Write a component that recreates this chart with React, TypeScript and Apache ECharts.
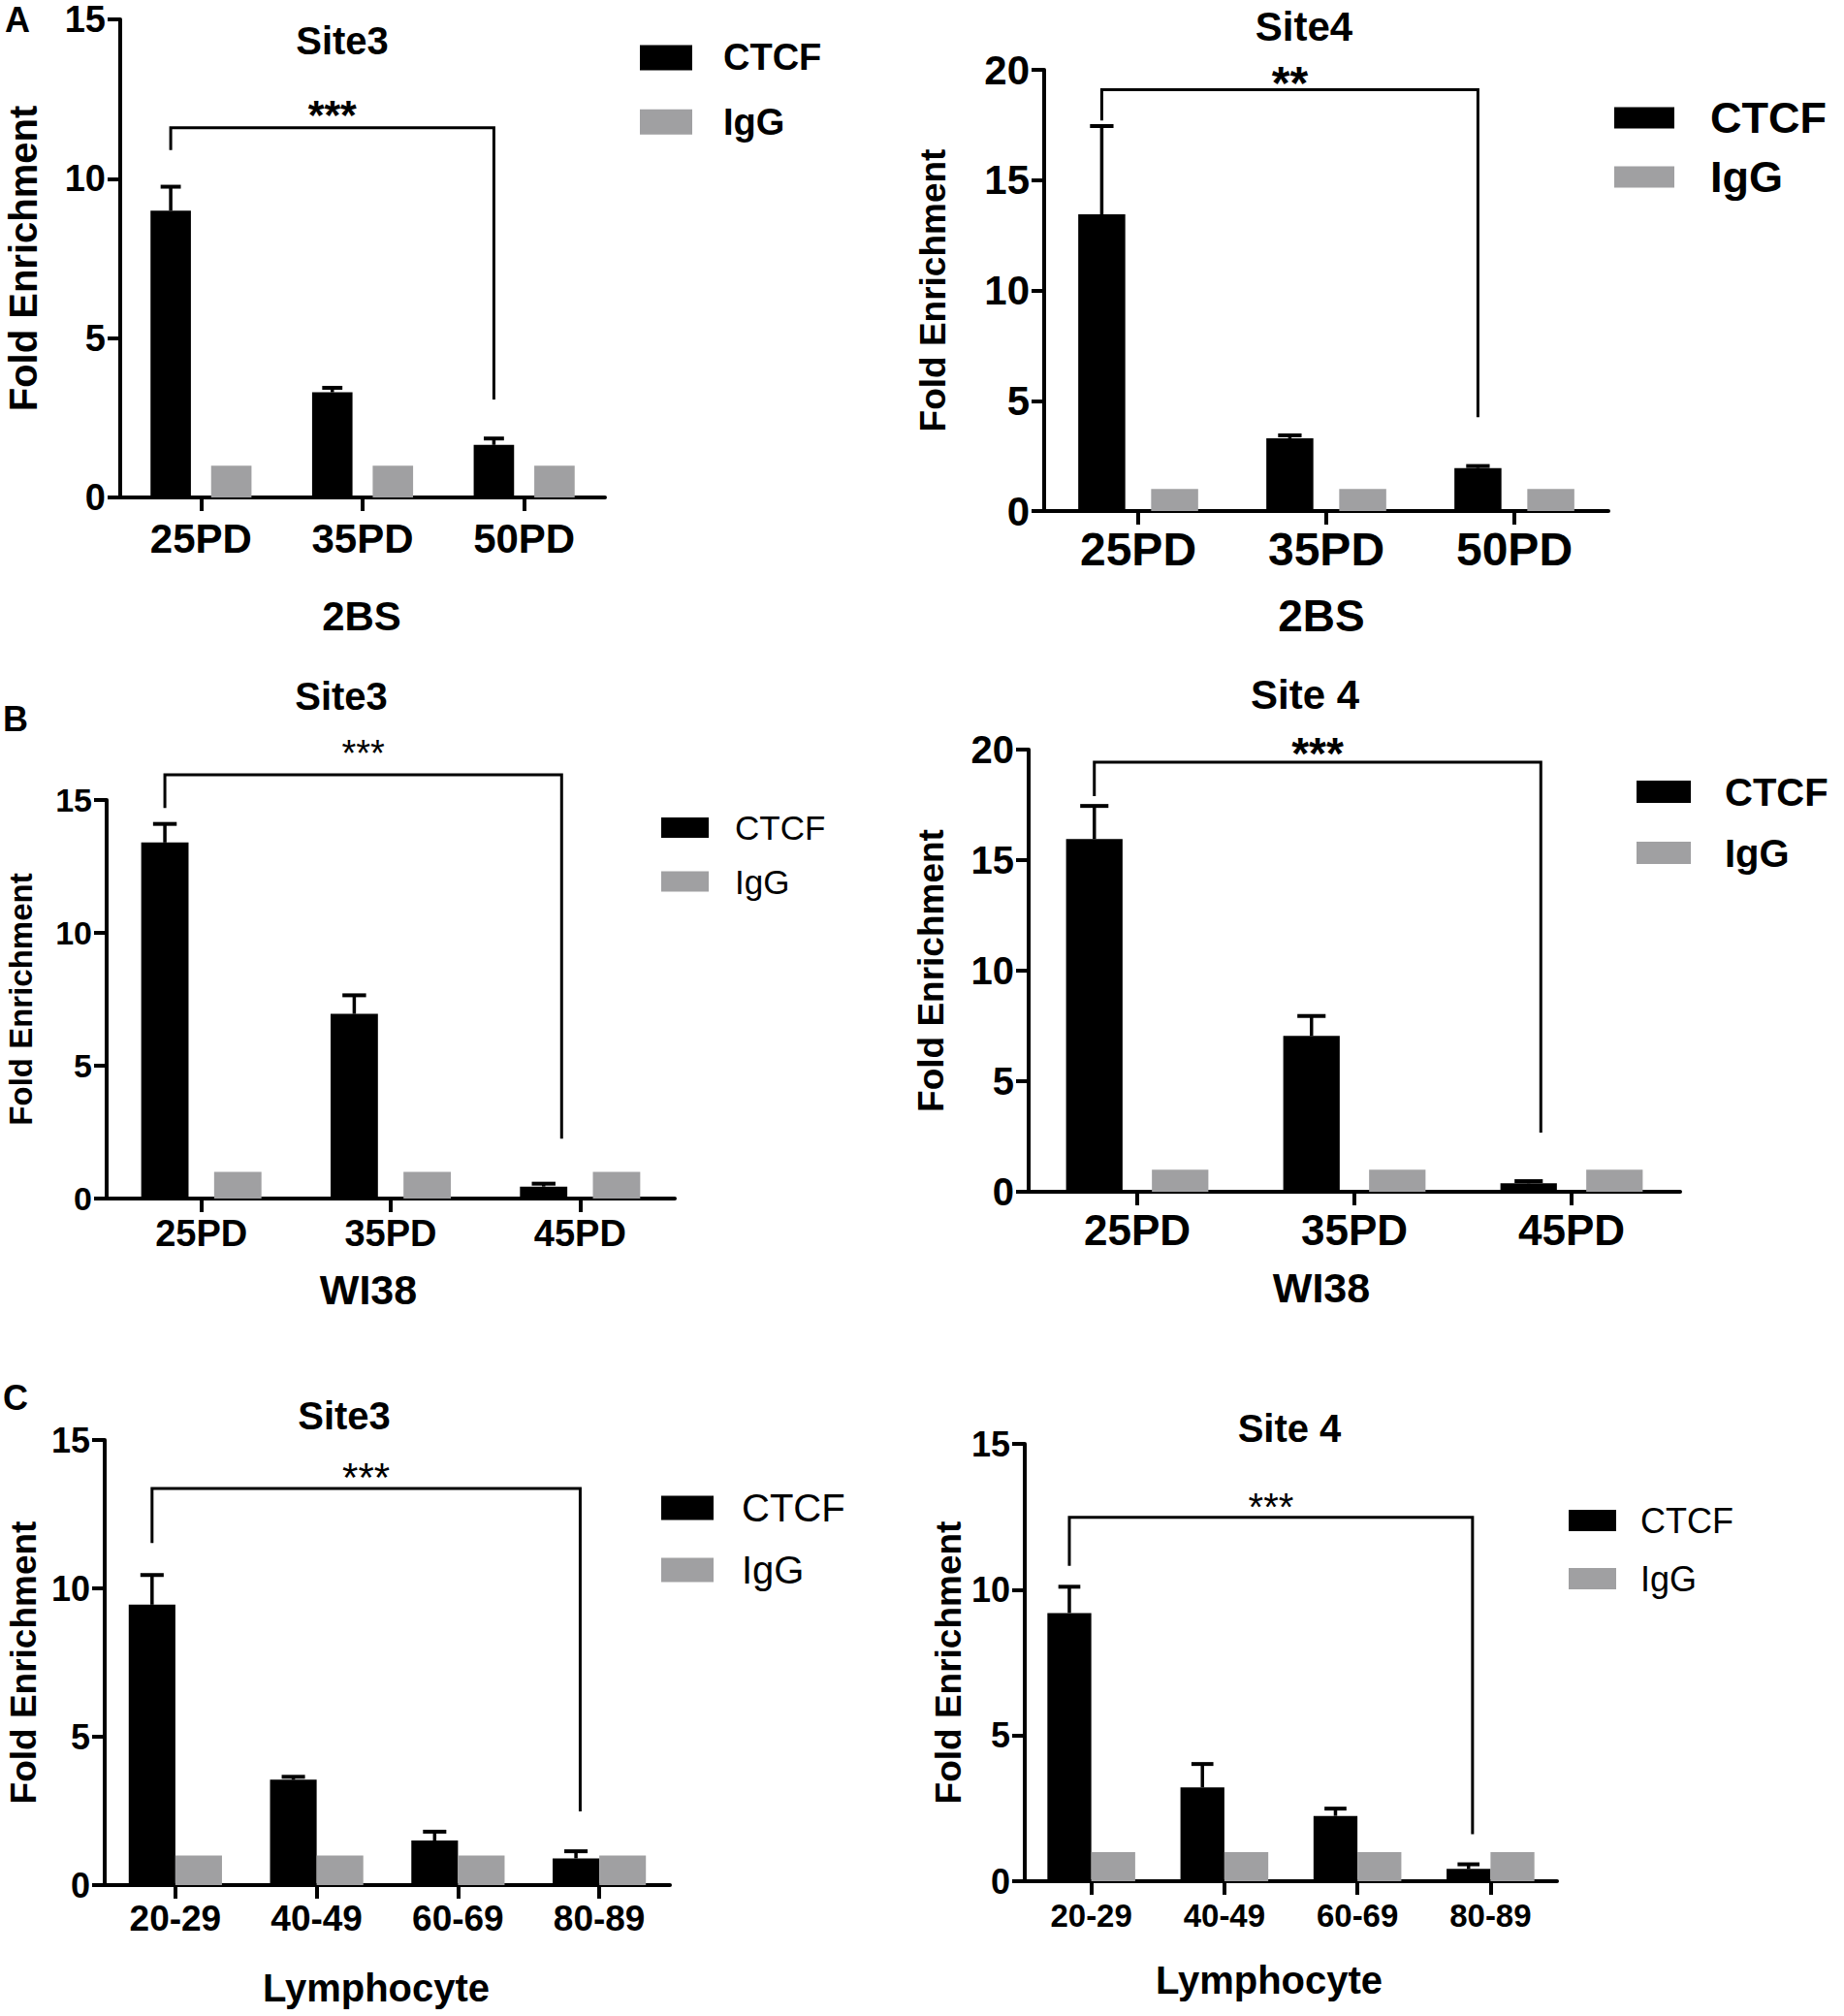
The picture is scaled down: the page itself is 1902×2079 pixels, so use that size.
import React, { useEffect, useRef } from "react";
import * as echarts from "echarts";

// ---------- DATA ----------
const PD_2BS = ["25PD", "35PD", "50PD"];
const PD_WI38 = ["25PD", "35PD", "45PD"];
const AGE_GROUPS = ["20-29", "40-49", "60-69", "80-89"];

// A: 2BS, Site3
const A3_CTCF = [9.0, 3.3, 1.65];
const A3_SEM = [0.75, 0.14, 0.2];
const A3_IGG = [1.0, 1.0, 1.0];
const A3_BRACKET = [11.6, 10.9, 3.07]; // top, left leg end, right leg end
// A: 2BS, Site4
const A4_CTCF = [13.45, 3.3, 1.95];
const A4_SEM = [4.0, 0.13, 0.09];
const A4_IGG = [1.0, 1.0, 1.0];
const A4_BRACKET = [19.1, 17.7, 4.25];
// B: WI38, Site3
const B3_CTCF = [13.4, 6.95, 0.45];
const B3_SEM = [0.7, 0.7, 0.11];
const B3_IGG = [1.0, 1.0, 1.0];
const B3_BRACKET = [15.95, 14.7, 2.25];
// B: WI38, Site 4
const B4_CTCF = [15.95, 7.05, 0.38];
const B4_SEM = [1.5, 0.9, 0.1];
const B4_IGG = [1.0, 1.0, 1.0];
const B4_BRACKET = [19.43, 17.9, 2.67];
// C: Lymphocyte, Site3
const C3_CTCF = [9.45, 3.55, 1.5, 0.9];
const C3_SEM = [1.0, 0.1, 0.3, 0.24];
const C3_IGG = [1.0, 1.0, 1.0, 1.0];
const C3_BRACKET = [13.37, 11.53, 2.48];
// C: Lymphocyte, Site 4
const C4_CTCF = [9.2, 3.22, 2.24, 0.42];
const C4_SEM = [0.9, 0.8, 0.25, 0.16];
const C4_IGG = [1.0, 1.0, 1.0, 1.0];
const C4_BRACKET = [12.48, 10.82, 1.61];

const SERIES_NAMES = ["CTCF", "IgG"];
const STARS = ["***", "**", "***", "***", "***", "***"];
const TITLES = ["Site3", "Site4", "Site3", "Site 4", "Site3", "Site 4"];
const GROUPS = ["2BS", "2BS", "WI38", "WI38", "Lymphocyte", "Lymphocyte"];
const PANEL_LETTERS = ["A", "B", "C"];
const Y_NAME = "Fold Enrichment";

// ---------- LAYOUT / STYLE ----------
const FONT = "'Liberation Sans', Arial, Helvetica, sans-serif";
const GRAY = "#a0a0a2";

type Panel = {
  cats: string[]; ctcf: number[]; sem: number[]; igg: number[]; bracket: number[];
  grid: { left: number; top: number; width: number; height: number };
  yMax: number; barW: number; gap: number; rightShift: number;
  tickFont: number; catFont: number; catMargin: number; nameFont: number; nameGap: number;
  title: { x: number; y: number; size: number };
  group: { x: number; y: number; size: number };
  legend: { left: number; top: number; w: number; h: number; lineH: number; gap: number; pad: number; font: number; weight: string };
  star: { size: number; weight: string; dy: number };
};

const PANELS: Panel[] = [
  {
    cats: PD_2BS, ctcf: A3_CTCF, sem: A3_SEM, igg: A3_IGG, bracket: A3_BRACKET,
    grid: { left: 124, top: 20, width: 500, height: 493 }, yMax: 15, barW: 0.25, gap: 0.5, rightShift: 0,
    tickFont: 38, catFont: 42, catMargin: 21, nameFont: 40, nameGap: 80,
    title: { x: 353, y: 42, size: 40 }, group: { x: 373, y: 635, size: 42 },
    legend: { left: 660, top: 39.4, w: 54, h: 26, lineH: 40, gap: 26.4, pad: 27, font: 38, weight: "bold" },
    star: { size: 43, weight: "bold", dy: -13.4 },
  },
  {
    cats: PD_2BS, ctcf: A4_CTCF, sem: A4_SEM, igg: A4_IGG, bracket: A4_BRACKET,
    grid: { left: 1077, top: 72, width: 582, height: 455 }, yMax: 20, barW: 0.25, gap: 0.55, rightShift: 0,
    tickFont: 42, catFont: 48, catMargin: 15, nameFont: 37, nameGap: 96,
    title: { x: 1345, y: 27, size: 42 }, group: { x: 1363, y: 635, size: 46 },
    legend: { left: 1665, top: 98.4, w: 62, h: 22, lineH: 46, gap: 15, pad: 32, font: 45, weight: "bold" },
    star: { size: 48, weight: "bold", dy: -6.5 },
  },
  {
    cats: PD_WI38, ctcf: B3_CTCF, sem: B3_SEM, igg: B3_IGG, bracket: B3_BRACKET,
    grid: { left: 110, top: 825, width: 586, height: 411 }, yMax: 15, barW: 0.25, gap: 0.54, rightShift: 0.095,
    tickFont: 34, catFont: 38, catMargin: 17, nameFont: 33, nameGap: 72,
    title: { x: 352, y: 718, size: 40 }, group: { x: 380, y: 1330, size: 43 },
    legend: { left: 682, top: 835.5, w: 49, h: 21, lineH: 36, gap: 19.5, pad: 22, font: 35, weight: "normal" },
    star: { size: 38, weight: "normal", dy: -22 },
  },
  {
    cats: PD_WI38, ctcf: B4_CTCF, sem: B4_SEM, igg: B4_IGG, bracket: B4_BRACKET,
    grid: { left: 1061, top: 773, width: 672, height: 456 }, yMax: 20, barW: 0.26, gap: 0.52, rightShift: 0.056,
    tickFont: 40, catFont: 44, catMargin: 17, nameFont: 37, nameGap: 82,
    title: { x: 1346, y: 716, size: 42 }, group: { x: 1363, y: 1328, size: 43 },
    legend: { left: 1688, top: 796.6, w: 56, h: 23, lineH: 40, gap: 23, pad: 30, font: 40, weight: "bold" },
    star: { size: 46, weight: "bold", dy: -9 },
  },
  {
    cats: AGE_GROUPS, ctcf: C3_CTCF, sem: C3_SEM, igg: C3_IGG, bracket: C3_BRACKET,
    grid: { left: 108, top: 1485, width: 583, height: 459 }, yMax: 15, barW: 0.33, gap: 0, rightShift: 0.03,
    tickFont: 36, catFont: 37, catMargin: 16, nameFont: 37, nameGap: 65,
    title: { x: 355, y: 1460, size: 40 }, group: { x: 388, y: 2050, size: 40 },
    legend: { left: 682, top: 1535, w: 54, h: 25, lineH: 40, gap: 24, pad: 24, font: 40, weight: "normal" },
    star: { size: 42, weight: "normal", dy: -11 },
  },
  {
    cats: AGE_GROUPS, ctcf: C4_CTCF, sem: C4_SEM, igg: C4_IGG, bracket: C4_BRACKET,
    grid: { left: 1057, top: 1489, width: 549, height: 451 }, yMax: 15, barW: 0.33, gap: 0, rightShift: 0.03,
    tickFont: 36, catFont: 33, catMargin: 19, nameFont: 37, nameGap: 60,
    title: { x: 1330, y: 1473, size: 40 }, group: { x: 1309, y: 2042, size: 40 },
    legend: { left: 1618, top: 1550, w: 49, h: 22, lineH: 36, gap: 24, pad: 20, font: 36, weight: "normal" },
    star: { size: 40, weight: "normal", dy: -10.5 },
  },
];

const LETTER_POS = [
  { x: 18, y: 20 },
  { x: 16, y: 741 },
  { x: 16, y: 1441 },
];

function textEl(text: string, x: number, y: number, size: number, weight = "bold") {
  return {
    type: "text",
    x,
    y,
    silent: true,
    style: {
      text,
      fill: "#000",
      fontSize: size,
      fontWeight: weight,
      fontFamily: FONT,
      align: "center",
      verticalAlign: "middle",
      textAlign: "center",
      textVerticalAlign: "middle",
    },
  };
}

function buildOption() {
  const grid: any[] = [];
  const xAxis: any[] = [];
  const yAxis: any[] = [];
  const series: any[] = [];
  const legend: any[] = [];
  const graphic: any[] = [];

  PANELS.forEach((p, i) => {
    grid.push({ ...p.grid, containLabel: false });
    xAxis.push({
      type: "category",
      gridIndex: i,
      data: p.cats,
      axisLine: { show: true, lineStyle: { color: "#000", width: 4 } },
      axisTick: { show: true, alignWithLabel: true, length: 14, lineStyle: { color: "#000", width: 4 } },
      axisLabel: { color: "#000", fontSize: p.catFont, fontWeight: "bold", fontFamily: FONT, margin: p.catMargin },
      splitLine: { show: false },
    });
    yAxis.push({
      type: "value",
      gridIndex: i,
      min: 0,
      max: p.yMax,
      interval: 5,
      name: Y_NAME,
      nameLocation: "middle",
      nameRotate: 90,
      nameGap: p.nameGap,
      nameTextStyle: { color: "#000", fontSize: p.nameFont, fontWeight: "bold", fontFamily: FONT },
      axisLine: { show: true, lineStyle: { color: "#000", width: 4 } },
      axisTick: { show: true, length: 13, lineStyle: { color: "#000", width: 4 } },
      axisLabel: { color: "#000", fontSize: p.tickFont, fontWeight: "bold", fontFamily: FONT, margin: 15 },
      splitLine: { show: false },
    });

    const off = -p.barW * (1 + p.gap) / 2; // CTCF bar centre, in band units
    series.push({
      name: SERIES_NAMES[0],
      type: "bar",
      xAxisIndex: i,
      yAxisIndex: i,
      data: p.ctcf,
      barWidth: `${p.barW * 100}%`,
      barGap: `${p.gap * 100}%`,
      itemStyle: { color: "#000" },
      silent: true,
      z: 2,
    });
    series.push({
      name: SERIES_NAMES[1],
      type: "bar",
      xAxisIndex: i,
      yAxisIndex: i,
      data: p.igg,
      barWidth: `${p.barW * 100}%`,
      barGap: `${p.gap * 100}%`,
      itemStyle: { color: GRAY },
      silent: true,
      z: 2,
    });
    // error bars (upper only)
    series.push({
      name: "err" + i,
      type: "custom",
      xAxisIndex: i,
      yAxisIndex: i,
      data: p.ctcf.map((v, k) => [k, v, v + p.sem[k]]),
      encode: { x: 0, y: [1, 2] },
      silent: true,
      clip: false,
      z: 3,
      renderItem: (params: any, api: any) => {
        const k = api.value(0);
        const base = api.coord([k, api.value(1)]);
        const top = api.coord([k, api.value(2)]);
        const band = api.size([1, 0])[0];
        const cx = base[0] + off * band;
        const hw = p.barW * band * 0.25;
        return {
          type: "group",
          children: [
            { type: "line", shape: { x1: cx, y1: base[1], x2: cx, y2: top[1] }, style: { stroke: "#000", lineWidth: 3.5 } },
            { type: "line", shape: { x1: cx - hw, y1: top[1], x2: cx + hw, y2: top[1] }, style: { stroke: "#000", lineWidth: 4 } },
          ],
        };
      },
    });
    // significance bracket
    const lastCat = p.cats.length - 1;
    series.push({
      name: "sig" + i,
      type: "custom",
      xAxisIndex: i,
      yAxisIndex: i,
      data: [[0, p.bracket[0], p.bracket[1], lastCat, p.bracket[2]]],
      encode: { x: 0, y: 1 },
      silent: true,
      clip: false,
      z: 4,
      renderItem: (params: any, api: any) => {
        const band = api.size([1, 0])[0];
        const lc = api.value(0);
        const rc = api.value(3);
        const pTopL = api.coord([lc, api.value(1)]);
        const pTopR = api.coord([rc, api.value(1)]);
        const yLB = api.coord([lc, api.value(2)])[1];
        const yRB = api.coord([rc, api.value(4)])[1];
        const xL = pTopL[0] + off * band;
        const xR = pTopR[0] + (off + p.rightShift) * band;
        const yT = pTopL[1];
        return {
          type: "group",
          children: [
            {
              type: "polyline",
              shape: { points: [[xL, yLB], [xL, yT], [xR, yT], [xR, yRB]] },
              style: { stroke: "#000", lineWidth: 3, fill: "none" },
            },
            {
              type: "text",
              x: (xL + xR) / 2,
              y: yT + p.star.dy,
              style: {
                text: STARS[i],
                fill: "#000",
                fontSize: p.star.size,
                fontWeight: p.star.weight,
                fontFamily: FONT,
                align: "center",
                verticalAlign: "middle",
              },
            },
          ],
        };
      },
    });

    legend.push({
      orient: "vertical",
      left: p.legend.left,
      top: p.legend.top,
      padding: 0,
      itemWidth: p.legend.w,
      itemHeight: p.legend.h,
      itemGap: p.legend.gap,
      icon: "rect",
      selectedMode: false,
      data: SERIES_NAMES,
      textStyle: {
        color: "#000",
        fontSize: p.legend.font,
        fontWeight: p.legend.weight,
        fontFamily: FONT,
        lineHeight: p.legend.lineH,
        padding: [0, 0, 0, p.legend.pad],
      },
    });

    graphic.push(textEl(TITLES[i], p.title.x, p.title.y, p.title.size));
    graphic.push(textEl(GROUPS[i], p.group.x, p.group.y, p.group.size));
  });

  PANEL_LETTERS.forEach((l, k) => {
    graphic.push(textEl(l, LETTER_POS[k].x, LETTER_POS[k].y, 36));
  });

  return {
    animation: false,
    backgroundColor: "#fff",
    grid,
    xAxis,
    yAxis,
    series,
    legend,
    graphic,
  };
}

export default function App() {
  const ref = useRef<HTMLDivElement>(null);
  useEffect(() => {
    if (!ref.current) return;
    const chart = echarts.init(ref.current, undefined, { renderer: "svg" });
    chart.setOption(buildOption() as any);
    return () => chart.dispose();
  }, []);
  return (
    <div
      ref={ref}
      style={{ position: "absolute", left: 0, top: 0, width: 1902, height: 2079, background: "#fff" }}
    />
  );
}
